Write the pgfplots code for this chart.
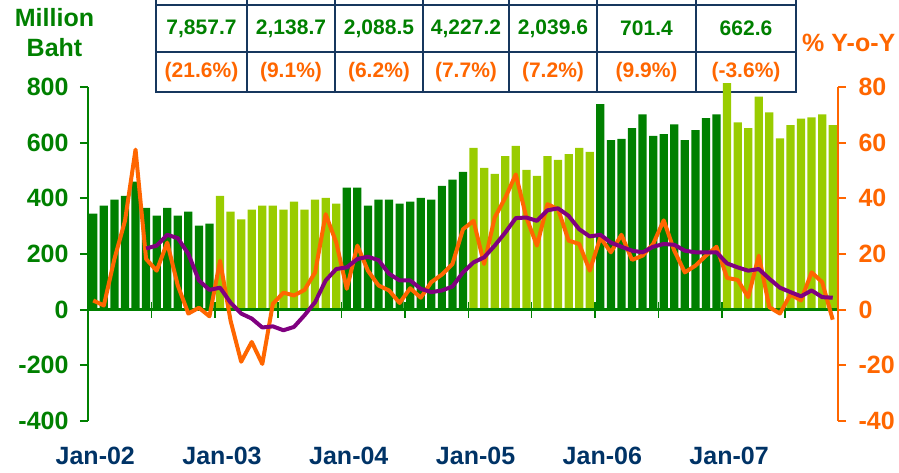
\documentclass[border=0pt]{standalone}
\usepackage{pgfplots}
\pgfplotsset{compat=1.18}
\usepackage{fontspec}
\setmainfont{Liberation Sans}
\definecolor{dgreen}{RGB}{0,128,0}
\definecolor{lgreen}{RGB}{153,204,0}
\definecolor{orng}{RGB}{255,102,0}
\definecolor{purp}{RGB}{128,0,128}
\definecolor{navy}{RGB}{0,51,102}
\definecolor{tblue}{RGB}{23,55,94}
\begin{document}
\begin{tikzpicture}[font=\fontsize{25}{30}\selectfont\bfseries]
\useasboundingbox (-88pt,-52pt) rectangle (811pt,421pt);
% summary table
\begin{scope}[line width=2.5pt, draw=tblue]
\draw[tblue] (68pt,329pt) -- (708pt,329pt);
\draw[tblue] (68pt,369pt) -- (708pt,369pt);
\draw[tblue] (68pt,416pt) -- (708pt,416pt);
\foreach \xx in {68,159,247,335,421,509,608,708}{
  \draw[tblue] (\xx pt,327.75pt) -- (\xx pt,430pt);
}
\end{scope}
\begin{scope}[font=\fontsize{21}{25}\selectfont\bfseries]
\node[dgreen] at (113.5pt,392.5pt) {7,857.7};
\node[dgreen] at (203pt,392.5pt) {2,138.7};
\node[dgreen] at (291pt,392.5pt) {2,088.5};
\node[dgreen] at (378pt,392.5pt) {4,227.2};
\node[dgreen] at (465pt,392.5pt) {2,039.6};
\node[dgreen] at (558.5pt,392.5pt) {701.4};
\node[dgreen] at (658pt,392.5pt) {662.6};
\node[orng] at (113.5pt,349pt) {(21.6\%)};
\node[orng] at (203pt,349pt) {(9.1\%)};
\node[orng] at (291pt,349pt) {(6.2\%)};
\node[orng] at (378pt,349pt) {(7.7\%)};
\node[orng] at (465pt,349pt) {(7.2\%)};
\node[orng] at (558.5pt,349pt) {(9.9\%)};
\node[orng] at (658pt,349pt) {(-3.6\%)};
\end{scope}
\node[dgreen, align=center] at (-33.5pt,388pt) {Million\\Baht};
\node[orng, anchor=west, inner sep=0pt] at (714pt,378pt) {\% Y-o-Y};
\begin{axis}[
  at={(0pt,0pt)}, anchor=south west,
  scale only axis, width=750pt, height=334pt,
  xmin=-0.5, xmax=70.5, ymin=-400, ymax=800,
  axis y line*=left, axis x line*=bottom,
  x axis line style={draw=none},
  x tick style={draw=none},
  xtick={0,12,24,36,48,60},
  xticklabels={Jan-02,Jan-03,Jan-04,Jan-05,Jan-06,Jan-07},
  xticklabel style={text=navy, yshift=-15pt, xshift=2pt},
  ytick={-400,-200,...,800},
  y axis line style={dgreen, line width=2pt},
  y tick style={dgreen, line width=2pt},
  yticklabel style={text=dgreen, xshift=-8pt},
  /pgf/number format/assume math mode=true,
  tick align=outside, major tick length=8pt,
  clip=false,
  ybar, bar width=0.78, bar shift=0pt,
]
\addplot[fill=dgreen, draw=none] coordinates {
(0,345) (1,374) (2,395) (3,409) (4,460) (5,366) (6,338) (7,366) (8,338) (9,352) (10,302) (11,309)
(24,438) (25,438) (26,374) (27,395) (28,395) (29,381) (30,388) (31,402) (32,395) (33,445) (34,467) (35,495)
(48,738) (49,609) (50,614) (51,652) (52,702) (53,624) (54,631) (55,666) (56,609) (57,645) (58,688) (59,702)
};
\addplot[fill=lgreen, draw=none] coordinates {
(12,409) (13,352) (14,324) (15,359) (16,374) (17,374) (18,359) (19,388) (20,359) (21,395) (22,402) (23,381)
(36,581) (37,509) (38,488) (39,552) (40,588) (41,502) (42,481) (43,552) (44,538) (45,559) (46,581) (47,567)
(60,814) (61,673) (62,652) (63,765) (64,709) (65,615) (66,663) (67,686) (68,691) (69,701.4) (70,662.6)
};
\draw[dgreen, line width=2.5pt] (axis cs:-0.5,0) -- (axis cs:70.5,0);
\pgfplotsinvokeforeach{5.5,11.5,17.5,23.5,29.5,35.5,41.5,47.5,53.5,59.5,65.5}{
  \draw[dgreen, line width=1.5pt] (axis cs:#1,0) ++(0pt,-8pt) -- ++(0pt,16pt);
}
\end{axis}
\begin{axis}[
  at={(0pt,0pt)}, anchor=south west,
  scale only axis, width=750pt, height=334pt,
  xmin=-0.5, xmax=70.5, ymin=-40, ymax=80,
  axis y line*=right, axis x line=none,
  ytick={-40,-20,...,80},
  y axis line style={orng, line width=2pt},
  y tick style={orng, line width=2pt},
  yticklabel style={text=orng, xshift=9pt},
  /pgf/number format/assume math mode=true,
  tick align=outside, major tick length=8pt,
  clip=false,
]
\addplot[orng, line width=4pt, line join=round] coordinates {
(0,3.3) (1,1.5) (2,18.2) (3,31.9) (4,57.5) (5,18.2) (6,14.0) (7,24.1) (8,8.7) (9,-1.4) (10,0.7) (11,-2.4)
(12,17.6) (13,-4.0) (14,-18.7) (15,-11.6) (16,-19.5) (17,2.1) (18,6.1) (19,5.1) (20,7.1) (21,13.4) (22,34.3) (23,24.1)
(24,7.5) (25,23.0) (26,14.0) (27,8.7) (28,6.9) (29,2.4) (30,7.7) (31,4.3) (32,9.9) (33,12.6) (34,16.4) (35,28.9)
(36,31.9) (37,16.4) (38,33.1) (39,40.2) (40,48.6) (41,33.1) (42,23.0) (43,37.9) (44,36.1) (45,24.8) (46,23.6) (47,14.0)
(48,25.9) (49,20.6) (50,26.9) (51,17.9) (52,19.4) (53,23.6) (54,32.1) (55,21.2) (56,13.4) (57,15.8) (58,19.4) (59,22.6)
(60,11.4) (61,10.7) (62,4.5) (63,19.4) (64,0.9) (65,-1.4) (66,5.5) (67,3.3) (68,13.4) (69,9.9) (70,-3.6)
};
\addplot[purp, line width=4pt, line join=round] coordinates {
(5,22.0) (6,23.0) (7,26.9) (8,25.7) (9,20.0) (10,10.5) (11,7.1)
(12,7.9) (13,2.5) (14,-1.4) (15,-3.2) (16,-6.4) (17,-6.0) (18,-7.4) (19,-6.2) (20,-2.0) (21,2.7) (22,10.5) (23,14.6)
(24,15.2) (25,18.2) (26,19.0) (27,17.8) (28,12.9) (29,10.5) (30,10.5) (31,7.5) (32,6.3) (33,6.9) (34,8.3) (35,13.4)
(36,17.0) (37,18.8) (38,23.0) (39,27.7) (40,32.9) (41,33.1) (42,31.9) (43,35.7) (44,36.4) (45,33.7) (46,28.9) (47,26.3)
(48,26.9) (49,24.1) (50,22.6) (51,21.2) (52,20.6) (53,22.6) (54,23.6) (55,23.3) (56,21.2) (57,20.6) (58,20.6) (59,20.6)
(60,16.6) (61,15.2) (62,14.0) (63,14.6) (64,11.1) (65,7.9) (66,6.3) (67,4.8) (68,6.9) (69,4.5) (70,4.3)
};
\end{axis}
\end{tikzpicture}
\end{document}
